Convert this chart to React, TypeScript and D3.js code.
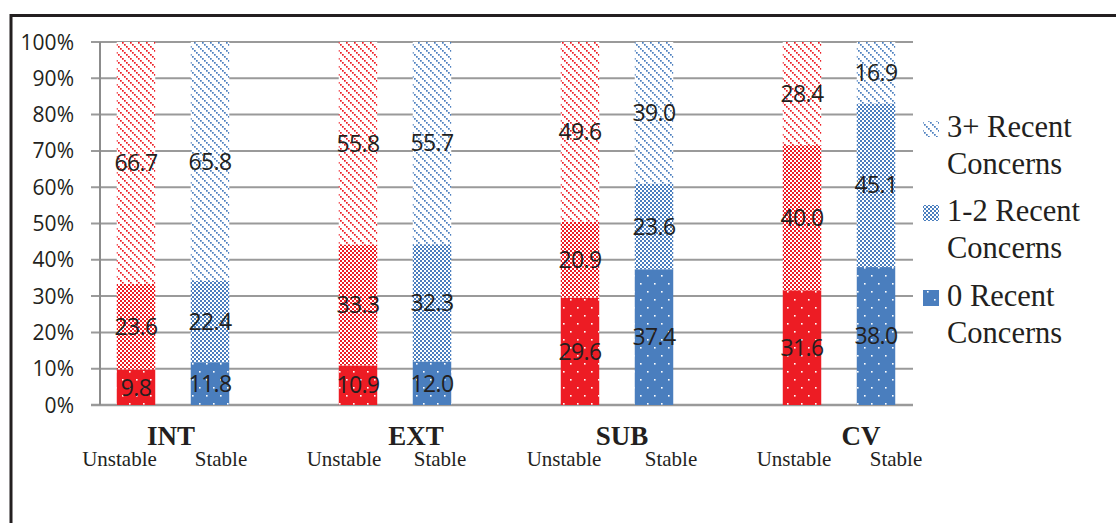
import React from "react";
import * as d3 from "d3";

const categories = ["INT", "EXT", "SUB", "CV"];
const statuses = ["Unstable", "Stable"];
const zeroUnstable = [9.8, 10.9, 29.6, 31.6];
const zeroStable = [11.8, 12.0, 37.4, 38.0];
const oneTwoUnstable = [23.6, 33.3, 20.9, 40.0];
const oneTwoStable = [22.4, 32.3, 23.6, 45.1];
const threeUnstable = [66.7, 55.8, 49.6, 28.4];
const threeStable = [65.8, 55.7, 39.0, 16.9];
const seriesKeys = ["zero", "oneTwo", "threePlus"];
const legendLabels = [
  ["3+ Recent", "Concerns"],
  ["1-2 Recent", "Concerns"],
  ["0 Recent", "Concerns"],
];
const yTicks = [0, 10, 20, 30, 40, 50, 60, 70, 80, 90, 100];

// layout
const W = 1116, H = 523;
const X0 = 99, GROUP = 222;
const Y_TOP = 42, Y_BOT = 405;
const GRID_X0 = 91, GRID_X1 = 913;
const catLabelDx = [-2, 21, 5, 22];
const unstableLabelDx = [-16.5, -14, -16, -8];
const stableLabelDx = [11, 8, 17, 20];
const RED = "#ED1C24";
const BLUE = "#4A7EBE";
const TEXT = "#231F20";
const SERIF = "'Liberation Serif', 'DejaVu Serif', serif";
const SANS = "'Open Sans', sans-serif";

type Row = { cat: string; status: string; zero: number; oneTwo: number; threePlus: number };

const rows: Row[] = [];
categories.forEach((c, i) => {
  rows.push({ cat: c, status: "Unstable", zero: zeroUnstable[i], oneTwo: oneTwoUnstable[i], threePlus: threeUnstable[i] });
  rows.push({ cat: c, status: "Stable", zero: zeroStable[i], oneTwo: oneTwoStable[i], threePlus: threeStable[i] });
});

function Patterns({ id, color }: { id: string; color: string }) {
  return (
    <>
      <pattern id={`dots-${id}`} patternUnits="userSpaceOnUse" width={14} height={16}>
        <rect width={14} height={16} fill={color} />
        <rect x={3} y={3} width={1.6} height={1.6} fill="#fff" />
        <rect x={10} y={11} width={1.6} height={1.6} fill="#fff" />
      </pattern>
      <pattern id={`check-${id}`} patternUnits="userSpaceOnUse" width={4} height={4}>
        <rect width={4} height={4} fill="#fff" />
        <rect x={0} y={0} width={2} height={2} fill={color} />
        <rect x={2} y={2} width={2} height={2} fill={color} />
      </pattern>
      <pattern id={`diag-${id}`} patternUnits="userSpaceOnUse" width={8} height={8}>
        <rect width={8} height={8} fill="#fff" />
        <rect x={0} y={0} width={1.7} height={1.7} fill={color} />
        <rect x={2} y={2} width={1.7} height={1.7} fill={color} />
        <rect x={4} y={4} width={1.7} height={1.7} fill={color} />
        <rect x={6} y={6} width={1.7} height={1.7} fill={color} />
      </pattern>
    </>
  );
}

const patternPrefix: Record<string, string> = { zero: "dots", oneTwo: "check", threePlus: "diag" };

export default function App() {
  const x = d3.scaleBand<string>().domain(categories).range([X0, X0 + GROUP * categories.length]).padding(0);
  const xi = d3.scaleBand<string>().domain(statuses).range([0, 148]).paddingInner(0.48).paddingOuter(0.24);
  const y = d3.scaleLinear().domain([0, 1]).range([Y_BOT, Y_TOP]);
  const yPct = d3.scaleLinear().domain([0, 100]).range([Y_BOT, Y_TOP]);

  const stacked = d3.stack<Row>().keys(seriesKeys).offset(d3.stackOffsetExpand)(rows);
  const fmt = d3.format(".1f");

  return (
    <svg width={W} height={H} style={{ position: "absolute", left: 0, top: 0, background: "#fff" }}>
      <defs>
        <Patterns id="red" color={RED} />
        <Patterns id="blue" color={BLUE} />
      </defs>
      <rect x={0} y={0} width={W} height={H} fill="#fff" />
      {/* frame */}
      <path d={`M11,${H + 5} V15.5 H${W + 5}`} fill="none" stroke={TEXT} strokeWidth={3} />

      {/* gridlines */}
      {yTicks.map((t) => (
        <line key={t} x1={GRID_X0} x2={GRID_X1} y1={yPct(t)} y2={yPct(t)} stroke="#9A9A9A" strokeWidth={t === 0 ? 2.5 : 2} />
      ))}
      <line x1={100} x2={100} y1={Y_TOP} y2={Y_BOT} stroke="#8C8C8C" strokeWidth={2} />
      {yTicks.map((t) => (
        <text key={t} x={74} y={yPct(t)} dy="0.36em" textAnchor="end" fontFamily={SANS} fontSize={21} fill={TEXT}>
          {t}%
        </text>
      ))}

      {/* bars */}
      {stacked.map((layer) => (
        <g key={layer.key}>
          {layer.map((seg, i) => {
            const r = seg.data;
            const bx = (x(r.cat) as number) + (xi(r.status) as number);
            const bw = xi.bandwidth();
            const col = r.status === "Unstable" ? "red" : "blue";
            return (
              <rect key={i} x={bx} y={y(seg[1])} width={bw} height={y(seg[0]) - y(seg[1])}
                fill={`url(#${patternPrefix[layer.key]}-${col})`} />
            );
          })}
        </g>
      ))}

      {/* data labels */}
      {stacked.map((layer) => (
        <g key={`l-${layer.key}`}>
          {layer.map((seg, i) => {
            const r = seg.data;
            const cx = (x(r.cat) as number) + (xi(r.status) as number) + xi.bandwidth() / 2;
            const cy = y((seg[0] + seg[1]) / 2);
            const v = (r as any)[layer.key] as number;
            return (
              <text key={i} x={cx} y={cy} dy="0.36em" textAnchor="middle" fontFamily={SANS}
                fontSize={23} letterSpacing={-0.6} fill={TEXT}>
                {fmt(v)}
              </text>
            );
          })}
        </g>
      ))}

      {/* category labels */}
      {categories.map((c, i) => {
        const uc = (x(c) as number) + (xi("Unstable") as number) + xi.bandwidth() / 2;
        const sc = (x(c) as number) + (xi("Stable") as number) + xi.bandwidth() / 2;
        const mid = (uc + sc) / 2;
        return (
          <g key={c}>
            <text x={mid + catLabelDx[i]} y={445} textAnchor="middle" fontWeight="bold" fontSize={27} fontFamily={SERIF} fill={TEXT}>{c}</text>
            <text x={uc + unstableLabelDx[i]} y={466} textAnchor="middle" fontSize={21} fontFamily={SERIF} fill={TEXT}>{statuses[0]}</text>
            <text x={sc + stableLabelDx[i]} y={466} textAnchor="middle" fontSize={21} fontFamily={SERIF} fill={TEXT}>{statuses[1]}</text>
          </g>
        );
      })}

      {/* legend */}
      {legendLabels.map((lines, i) => {
        const keyName = seriesKeys[seriesKeys.length - 1 - i];
        const baseY = [137, 221, 306][i];
        return (
          <g key={i}>
            <rect x={923} y={baseY - 16} width={16} height={16} fill={`url(#${patternPrefix[keyName]}-blue)`} />
            <text x={947} y={baseY} fontFamily={SERIF} fontSize={30.5} fill={TEXT}>{lines[0]}</text>
            <text x={947} y={baseY + 36.5} fontFamily={SERIF} fontSize={30.5} fill={TEXT}>{lines[1]}</text>
          </g>
        );
      })}
    </svg>
  );
}
